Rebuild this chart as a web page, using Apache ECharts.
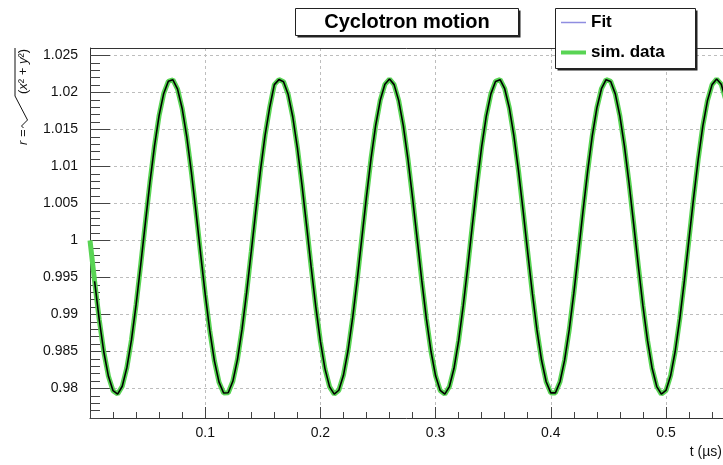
<!DOCTYPE html>
<html><head><meta charset="utf-8">
<script src="https://cdn.jsdelivr.net/npm/echarts@6/dist/echarts.min.js"></script>
<style>html,body{margin:0;padding:0;background:#fff}#c{width:723px;height:465px}</style>
</head><body><div id="c"></div>
<script>
// time samples (µs)
const tValues = [
 0,0.004,0.008,0.012,0.016,0.020,0.024,0.028,0.032,0.036,
 0.040,0.044,0.048,0.052,0.056,0.060,0.064,0.068,0.072,0.076,
 0.080,0.084,0.088,0.092,0.096,0.100,0.104,0.108,0.112,0.116,
 0.120,0.124,0.128,0.132,0.136,0.140,0.144,0.148,0.152,0.156,
 0.160,0.164,0.168,0.172,0.176,0.180,0.184,0.188,0.192,0.196,
 0.200,0.204,0.208,0.212,0.216,0.220,0.224,0.228,0.232,0.236,
 0.240,0.244,0.248,0.252,0.256,0.260,0.264,0.268,0.272,0.276,
 0.280,0.284,0.288,0.292,0.296,0.300,0.304,0.308,0.312,0.316,
 0.320,0.324,0.328,0.332,0.336,0.340,0.344,0.348,0.352,0.356,
 0.360,0.364,0.368,0.372,0.376,0.380,0.384,0.388,0.392,0.396,
 0.400,0.404,0.408,0.412,0.416,0.420,0.424,0.428,0.432,0.436,
 0.440,0.444,0.448,0.452,0.456,0.460,0.464,0.468,0.472,0.476,
 0.480,0.484,0.488,0.492,0.496,0.500,0.504,0.508,0.512,0.516,
 0.520,0.524,0.528,0.532,0.536,0.540,0.544,0.548,0.552
];
// simulated radius r
const simValues = [
 1.00000,0.99448,0.98931,0.98492,0.98163,0.97969,0.97923,0.98029,0.98280,0.98656,
 0.99130,0.99668,1.00231,1.00780,1.01278,1.01689,1.01986,1.02150,1.02170,1.02045,
 1.01783,1.01401,1.00924,1.00386,0.99822,0.99273,0.98778,0.98372,0.98084,0.97937,
 0.97941,0.98096,0.98389,0.98801,0.99300,0.99850,1.00413,1.00949,1.01422,1.01799,
 1.02105,1.02173,1.02145,1.01974,1.01671,1.01255,1.00754,1.00203,0.99640,0.99105,
 0.98635,0.98264,0.98020,0.97922,0.97975,0.98177,0.98512,0.98955,0.99475,1.00034,
 1.00592,1.01112,1.01556,1.01896,1.02109,1.02180,1.02105,1.01889,1.01547,1.01100,
 1.00579,1.00020,0.99461,0.98943,0.98502,0.98170,0.97972,0.97922,0.98025,0.98272,
 0.98645,0.99117,0.99654,1.00217,1.00767,1.01266,1.01680,1.01980,1.02148,1.02172,
 1.02050,1.01791,1.01411,1.00937,1.00399,0.99836,0.99286,0.98789,0.98380,0.98090,
 0.97939,0.97939,0.98090,0.98381,0.98790,0.99287,0.99836,1.00400,1.00937,1.01412,
 1.01791,1.02050,1.02172,1.02148,1.01980,1.01680,1.01266,1.00767,1.00217,0.99654,
 0.99117,0.98645,0.98272,0.98025,0.97922,0.97972,0.98170,0.98502,0.98943,0.99461,
 1.00020,1.00579,1.01100,1.01547,1.01889,1.02105,1.02180,1.02109,1.01896
];
const fitFirstIndex = 1;
const xMin = 0, xMax = 0.5495;
const yMin = 0.976, yMax = 1.026;
const seriesNames = ['Fit', 'sim. data'];
const titleText = 'Cyclotron motion';
const xTitle = 't (\u00b5s)';

const FONT = '"Liberation Sans", Arial, Helvetica, sans-serif';
const GREEN = '#59d454';
const FITCOL = '#8f8de0';
const simPoints = tValues.map((t, i) => [t, simValues[i]]);
const fitPoints = simPoints.slice(fitFirstIndex);

const chart = echarts.init(document.getElementById('c'));
const axisLineStyle = {color: '#333', width: 1};
const tickStyle = {color: '#444', width: 1};
const gridStyle = {color: '#bdbdbd', type: [3, 3], width: 1};

chart.setOption({
  animation: false,
  backgroundColor: '#fff',
  grid: {left: 90, right: 0, top: 48, bottom: 47, containLabel: false, outerBoundsMode: 'none'},
  xAxis: [
    {type: 'value', min: xMin, max: xMax, interval: 0.1, position: 'bottom',
     axisLine: {show: true, onZero: false, lineStyle: axisLineStyle},
     axisTick: {show: true, inside: true, length: 11, lineStyle: tickStyle},
     axisLabel: {show: true, margin: 8, fontSize: 14, color: '#111', fontFamily: FONT, showMinLabel: false, showMaxLabel: false},
     splitLine: {show: true, lineStyle: gridStyle}},
    {type: 'value', min: xMin, max: xMax, interval: 0.02, position: 'bottom',
     axisLine: {show: false}, axisTick: {show: true, inside: true, length: 6, lineStyle: tickStyle},
     axisLabel: {show: false}, splitLine: {show: false}}
  ],
  yAxis: [
    {type: 'value', min: yMin, max: yMax, minInterval: 0.005, maxInterval: 0.005, position: 'left',
     axisLine: {show: true, onZero: false, lineStyle: axisLineStyle},
     axisTick: {show: true, inside: true, length: 20, lineStyle: tickStyle},
     axisLabel: {show: true, margin: 12, fontSize: 14, color: '#111', fontFamily: FONT, showMinLabel: false, showMaxLabel: false},
     splitLine: {show: true, lineStyle: gridStyle}},
    {type: 'value', min: yMin, max: yMax, interval: 0.001, position: 'left',
     axisLine: {show: false}, axisTick: {show: true, inside: true, length: 10, lineStyle: tickStyle},
     axisLabel: {show: false}, splitLine: {show: false}}
  ],
  legend: [
    {data: [seriesNames[0]], left: 561, top: 14, padding: 0, icon: 'rect', itemWidth: 25, itemHeight: 1.5,
     itemStyle: {color: FITCOL}, selectedMode: false, z: 60,
     textStyle: {fontSize: 17, fontWeight: 'bold', color: '#000', fontFamily: FONT}},
    {data: [seriesNames[1]], left: 561, top: 44, padding: 0, icon: 'rect', itemWidth: 25, itemHeight: 4,
     itemStyle: {color: GREEN}, selectedMode: false, z: 60,
     textStyle: {fontSize: 17, fontWeight: 'bold', color: '#000', fontFamily: FONT}}
  ],
  series: [
    {name: seriesNames[1], type: 'line', xAxisIndex: 0, yAxisIndex: 0, data: simPoints, symbol: 'none',
     lineStyle: {color: GREEN, width: 5}, itemStyle: {color: GREEN}, z: 2, clip: true},
    {name: seriesNames[0], type: 'line', xAxisIndex: 0, yAxisIndex: 0, data: fitPoints, symbol: 'none',
     lineStyle: {color: '#000', width: 1.6}, itemStyle: {color: FITCOL}, z: 3, clip: true}
  ],
  graphic: [
    {type: 'line', z: 5, shape: {x1: 90, y1: 48.5, x2: 723, y2: 48.5}, style: {stroke: '#333', lineWidth: 1}},
    {type: 'rect', z: 50, shape: {x: 297.5, y: 10.5, width: 223, height: 27}, style: {fill: '#222'}},
    {type: 'rect', z: 51, shape: {x: 295.5, y: 8.5, width: 223, height: 27}, style: {fill: '#fff', stroke: '#222', lineWidth: 1}},
    {type: 'text', z: 52, x: 407, y: 22, style: {text: titleText, fontSize: 20, fontWeight: 'bold', fontFamily: FONT, fill: '#000', align: 'center', verticalAlign: 'middle'}},
    {type: 'rect', z: 50, shape: {x: 557.5, y: 10.5, width: 140, height: 60}, style: {fill: '#222'}},
    {type: 'rect', z: 51, shape: {x: 555.5, y: 8.5, width: 140, height: 60}, style: {fill: '#fff', stroke: '#222', lineWidth: 1}},
    {type: 'text', z: 52, x: 722, y: 452, style: {text: xTitle, fontSize: 14, fontFamily: FONT, fill: '#111', align: 'right', verticalAlign: 'middle'}},
    {type: 'text', z: 52, x: 23, y: 145, rotation: Math.PI / 2,
     style: {text: '{i|r} =', fontSize: 13, fontFamily: FONT, fill: '#111', align: 'left', verticalAlign: 'middle',
             rich: {i: {fontStyle: 'italic', fontSize: 13, fontFamily: FONT, fill: '#111'}}}},
    {type: 'polyline', z: 52, shape: {points: [[23.5, 128], [21.5, 126], [27.5, 120], [15, 96], [15, 48]]},
     style: {stroke: '#111', fill: null, lineWidth: 1}},
    {type: 'text', z: 52, x: 23, y: 94, rotation: Math.PI / 2,
     style: {text: '({i|x}\u00b2 + {i|y}\u00b2)', fontSize: 13, fontFamily: FONT, fill: '#111', align: 'left', verticalAlign: 'middle',
             rich: {i: {fontStyle: 'italic', fontSize: 13, fontFamily: FONT, fill: '#111'}}}}
  ]
});
</script></body></html>
